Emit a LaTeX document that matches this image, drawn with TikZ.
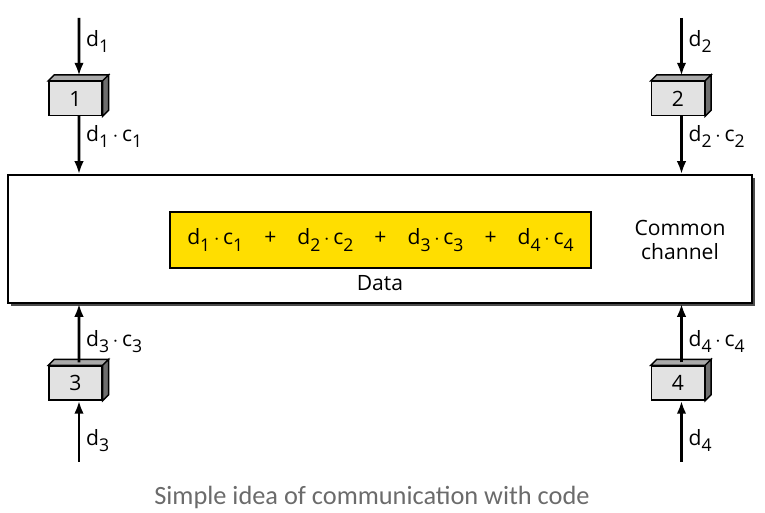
\documentclass[tikz,border=0pt]{standalone}
\usepackage{fontspec}
\setmainfont{Open Sans}
\newfontfamily\capfont{Carlito}
\usepackage{pgf,tikz}
\usetikzlibrary{arrows.meta}
\usetikzlibrary{calc, positioning, shadows}
\definecolor{chipgray}{RGB}{226,226,226}
\definecolor{topgray}{RGB}{170,170,170}
\definecolor{sidegray}{RGB}{110,110,110}
\definecolor{datayellow}{RGB}{255,222,0}
\newcommand{\ix}[2]{#1\raisebox{-0.55ex}{\fontsize{10}{10}\selectfont #2}}
\newcommand{\dc}[1]{\ix{d}{#1}\,$\cdot$\,\ix{c}{#1}}

\begin{document}
\begin{tikzpicture}[>={Latex[length=2.6mm, width=1.9mm]}, x=0.02cm, y=-0.02cm, font=\fontsize{12}{14}\selectfont,
  chip/.style={draw, thick, fill=chipgray, minimum width=1.06cm, minimum height=0.68cm, inner sep=0pt},
  flow/.style={->, line width=1.5pt}]
\useasboundingbox (0,0) rectangle (765,513);
\node[draw, line width=0.9pt, fill=white, minimum width=14.88cm, minimum height=2.56cm,
  drop shadow={shadow xshift=1.8pt, shadow yshift=-1.8pt, opacity=1, fill=black!70}] at (380,239) (CH) {};
\node[draw, thick, fill=datayellow, minimum width=8.42cm, minimum height=1.12cm] at (380.5,240) (Y)
  {\dc{1}\quad+\quad\dc{2}\quad+\quad\dc{3}\quad+\quad\dc{4}};
\node at (380,283) (DL) {Data};
\node[align=center] at (680,240) (CC) {Common\\channel};
% the four coders
\node[chip] at (75.5,98.5) (B1) {1};
\node[chip] at (678,98.5) (B2) {2};
\node[chip] at (75.5,383) (B3) {3};
\node[chip] at (678,383) (B4) {4};
\foreach \b in {B1,B2,B3,B4} {
  \filldraw[thick, fill=topgray] (\b.north west) -- ++(6,-6) -- ($(\b.north east)+(6,-6)$) -- (\b.north east) -- cycle;
  \filldraw[thick, fill=sidegray] (\b.north east) -- ++(6,-6) -- ($(\b.south east)+(6,-6)$) -- (\b.south east) -- cycle;
}
\coordinate (S1) at (79,18);
\coordinate (S2) at (681.5,18);
\coordinate (S3) at (79,462);
\coordinate (S4) at (681.5,462);
\draw[flow] (S1) to node [right, pos=.4]{\ix{d}{1}} ($(B1.north)+(3.5,-5)$);
\draw[flow] ($(B1.south)+(3.5,0)$) to node [right, pos=.35]{\dc{1}} (CH.north -| S1);
\draw[flow] (S2) to node [right, pos=.4]{\ix{d}{2}} ($(B2.north)+(3.5,-5)$);
\draw[flow] ($(B2.south)+(3.5,0)$) to node [right, pos=.35]{\dc{2}} (CH.north -| S2);
\draw[flow] (S3) to node [right, pos=.35]{\ix{d}{3}} (B3.south -| S3);
\draw[flow] ($(B3.north)+(3.5,-3)$) to node [right, pos=.35]{\dc{3}} (CH.south -| S3);
\draw[flow] (S4) to node [right, pos=.35]{\ix{d}{4}} (B4.south -| S4);
\draw[flow] ($(B4.north)+(3.5,-3)$) to node [right, pos=.35]{\dc{4}} (CH.south -| S4);
\node[font=\capfont\fontsize{15}{17}\selectfont, text=black!58] at (372,497) (CAP) {Simple idea of communication with code};
\end{tikzpicture}
\end{document}
